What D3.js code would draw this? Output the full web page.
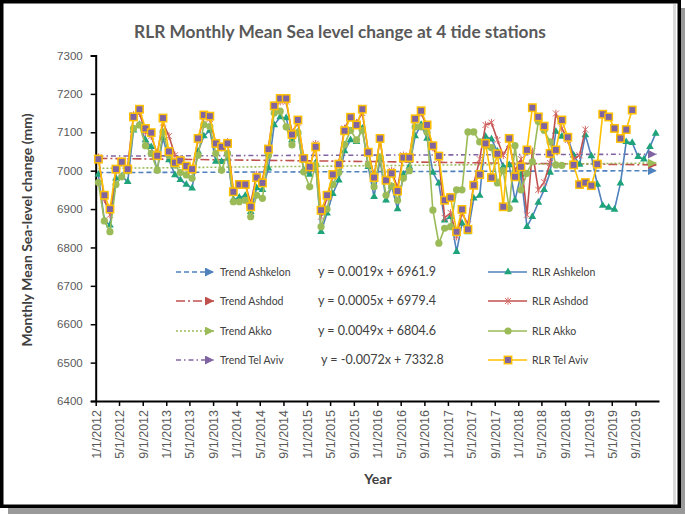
<!DOCTYPE html>
<html><head><meta charset="utf-8">
<script src="https://cdn.jsdelivr.net/npm/d3@7"></script>
<style>body{margin:0;background:#fff}svg{display:block}</style>
</head><body>
<svg id="c" width="685" height="515"></svg>
<script>
// ---------------- DATA ----------------
const startYear = 2012; // first monthly value: January 2012 (plotted mid-month)
const ashkelon = [6990,6870,6858,6980,6985,6971,7105,7120,7080,7062,7001,7085,
  7028,6989,6976,6964,6954,7050,7090,7105,7024,7023,7032,6925,
  6930,6935,6893,6955,6950,7006,7119,7140,7137,7080,7100,7001,
  6990,7020,6841,6889,6940,6975,7051,7080,7075,7110,7010,6932,
  7030,6923,6959,6900,6990,7010,7090,7120,7084,6995,6967,6871,
  6880,6789,6863,6840,6928,6935,7089,7082,7050,7010,7015,6923,
  6990,6854,6880,6917,6950,6995,7102,7089,7085,7040,7016,7093,
  7038,6964,6909,6904,6899,6967,7075,7073,7036,7030,7062,7097];
const ashdod = [7035,6925,6885,7000,7020,7010,7145,7150,7100,7090,7045,7125,
  7090,7040,7030,7010,7000,7080,7140,7135,7070,7060,7075,6950,
  6965,6965,6915,6990,6975,7060,7165,7180,7180,7100,7125,7035,
  7005,7070,6880,6930,6985,7020,7110,7140,7125,7150,7050,6985,
  7080,6975,7000,6955,7040,7035,7130,7150,7115,7060,7030,6877,
  6890,6828,6890,6860,6965,7030,7119,7125,7080,7040,7070,7000,
  7030,6885,7050,6950,6970,7020,7149,7110,7080,7030,7040,7107];
const akko = [6969,6869,6841,6964,6984,7000,7110,7119,7065,7045,7001,7101,
  7040,7015,6995,6989,6980,7040,7120,7115,7045,7001,7045,6919,
  6919,6923,6880,6936,6928,7040,7150,7155,7114,7067,7100,6997,
  6958,7015,6854,6900,6964,6995,7068,7105,7080,7105,7016,6958,
  7036,6936,6960,6923,6980,7000,7114,7114,7100,6897,6811,6850,
  6854,6950,6950,7101,7101,7075,7065,7060,6968,7000,6902,7065,
  6950,6993,7023,7128,7105,7075,7015,7014];
const telAviv = [7030,6936,6900,7004,7023,7004,7140,7160,7110,7099,7039,7137,
  7050,7021,7026,7012,7004,7084,7145,7142,7071,7062,7071,6945,
  6964,6964,6906,6982,6968,7056,7169,7188,7188,7094,7132,7032,
  7010,7062,6897,6936,6990,7017,7104,7139,7119,7160,7048,6982,
  7084,6975,6993,6947,7034,7034,7135,7156,7119,7065,7038,6923,
  6930,6841,6899,6847,6962,6990,7071,6982,7044,6906,7084,6984,
  7010,7054,7164,7140,7116,7045,7054,7132,7087,7015,6964,6969,
  6961,7017,7147,7140,7110,7084,7107,7158];
const stations = ["Ashkelon","Ashdod","Akko","Tel Aviv"];
const equations = ["y = 0.0019x + 6961.9","y = 0.0005x + 6979.4","y = 0.0049x + 6804.6","y = -0.0072x + 7332.8"];
const trendStart = [6995,7032,7006,7038];
const trendEnd   = [7000,7015,7020,7043];
const yTicks = [6400,6500,6600,6700,6800,6900,7000,7100,7200,7300];
const xTickLabels = ["1/1/2012","5/1/2012","9/1/2012","1/1/2013","5/1/2013","9/1/2013",
  "1/1/2014","5/1/2014","9/1/2014","1/1/2015","5/1/2015","9/1/2015",
  "1/1/2016","5/1/2016","9/1/2016","1/1/2017","5/1/2017","9/1/2017",
  "1/1/2018","5/1/2018","9/1/2018","1/1/2019","5/1/2019","9/1/2019"];
const title = "RLR Monthly Mean Sea level change at 4 tide stations";
const yTitle = "Monthly Mean Sea-level change  (mm)";
const xTitle = "Year";

// ---------------- STYLE ----------------
const lineColors  = ["#4F81BD","#C0504D","#9BBB59","#FFC000"];
const trendColors = ["#4F81BD","#C0504D","#9BBB59","#8064A2"];
const trendDash   = ["5,3","9,3,2,3","2,2","5,3,1.5,3"];
const series = [ashkelon, ashdod, akko, telAviv];

const svg = d3.select("#c");
const parse = d3.timeParse("%m/%d/%Y");
const x = d3.scaleTime().domain([new Date(2012,0,1), new Date(2020,0,1)]).range([95.7, 659]);
const y = d3.scaleLinear().domain([6400,7300]).range([401,55.5]);
const dateOf = i => new Date(startYear, i, 15);

// frame with shadow
svg.append("rect").attr("x",8).attr("y",506).attr("width",677).attr("height",8).attr("fill","#9a9a9a");
svg.append("rect").attr("x",680).attr("y",8).attr("width",5).attr("height",506).attr("fill","#9a9a9a");
svg.append("rect").attr("x",1.75).attr("y",1.75).attr("width",677.5).attr("height",504.5)
  .attr("fill","#fff").attr("stroke","#000").attr("stroke-width",3.5);
svg.append("rect").attr("x",673).attr("y",4).attr("width",3).attr("height",500).attr("fill","#d9d9d9");

// arrow markers
const defs = svg.append("defs");
trendColors.forEach((c,k)=>{
  defs.append("marker").attr("id","arr"+k).attr("viewBox","0 0 10 10")
    .attr("refX",10).attr("refY",5).attr("markerWidth",9).attr("markerHeight",9)
    .attr("markerUnits","userSpaceOnUse").attr("orient","auto")
    .append("path").attr("d","M0,0L10,5L0,10Z").attr("fill",c);
});

// title
svg.append("text").attr("x",340).attr("y",38).attr("text-anchor","middle")
  .attr("font-family","Lato, 'Open Sans', sans-serif").attr("font-weight","bold")
  .attr("font-size",17.3).attr("fill","#595959").text(title);

// y axis
const yAxis = svg.append("g").attr("transform","translate(95.7,0)")
  .call(d3.axisLeft(y).tickValues(yTicks).tickSize(5).tickPadding(8).tickFormat(d3.format("d")));
yAxis.select(".domain").attr("stroke","#000").attr("stroke-width",2);
yAxis.selectAll(".tick line").attr("stroke","#000").attr("stroke-width",1.5);
yAxis.selectAll("text").attr("font-family","'Liberation Sans', Arial, sans-serif")
  .attr("font-size",11.5).attr("fill","#595959");

// x axis
const xAxis = svg.append("g").attr("transform","translate(0,401)")
  .call(d3.axisBottom(x).tickValues(xTickLabels.map(parse)).tickSize(5).tickSizeOuter(0)
    .tickFormat(d3.timeFormat("%-m/%-d/%Y")));
xAxis.select(".domain").attr("stroke","#000").attr("stroke-width",2);
xAxis.selectAll(".tick line").attr("stroke","#000").attr("stroke-width",1.5);
xAxis.selectAll("text").attr("font-family","'Liberation Sans', Arial, sans-serif")
  .attr("font-size",12.5).attr("fill","#595959")
  .attr("transform","rotate(-90)").attr("text-anchor","end")
  .attr("x",-9).attr("y",0).attr("dy","0.35em");

// axis titles
svg.append("text").attr("transform","translate(26,230) rotate(-90)").attr("text-anchor","middle")
  .attr("dominant-baseline","central")
  .attr("font-family","Lato, sans-serif").attr("font-weight","bold").attr("font-size",14)
  .attr("fill","#404040").text(yTitle);
svg.append("text").attr("x",378).attr("y",484).attr("text-anchor","middle")
  .attr("font-family","Lato, sans-serif").attr("font-weight","bold").attr("font-size",14)
  .attr("fill","#404040").text(xTitle);

// trend lines
const plot = svg.append("g");
const firstDate = dateOf(0), lastDate = dateOf(ashkelon.length-1);
stations.forEach((s,k)=>{
  plot.append("line").attr("x1",x(firstDate)).attr("y1",y(trendStart[k]))
    .attr("x2",x(lastDate)+1).attr("y2",y(trendEnd[k]))
    .attr("stroke",trendColors[k]).attr("stroke-width",1.6)
    .attr("stroke-dasharray",trendDash[k]).attr("marker-end","url(#arr"+k+")");
});

// series
const line = d3.line().x((d,i)=>x(dateOf(i))).y(d=>y(d));
const tri = d3.symbol().type(d3.symbolTriangle).size(26);
function drawMarker(g,k,cx,cy){
  if(k===0){
    g.append("path").attr("d",tri()).attr("transform",`translate(${cx},${cy})`)
      .attr("fill","#1FA37A");
  } else if(k===1){
    g.append("path").attr("d","M-3,-3L3,3M-3,3L3,-3M0,-3.8L0,3.8")
      .attr("transform",`translate(${cx},${cy})`).attr("stroke","#D46A68").attr("stroke-width",1).attr("fill","none");
  } else if(k===2){
    g.append("circle").attr("cx",cx).attr("cy",cy).attr("r",3.6).attr("fill","#9BBB59");
  } else {
    g.append("rect").attr("x",cx-3.7).attr("y",cy-3.7).attr("width",7.4).attr("height",7.4)
      .attr("fill","#8064A2").attr("stroke","#FFC000").attr("stroke-width",1.5);
  }
}
series.forEach((vals,k)=>{
  const g = plot.append("g");
  g.append("path").datum(vals).attr("d",line).attr("fill","none")
    .attr("stroke",lineColors[k]).attr("stroke-width",1.6);
  vals.forEach((v,i)=>drawMarker(g,k,x(dateOf(i)),y(v)));
});

// legend
const rowsY = [272,301,331,360];
const lg = svg.append("g").attr("font-family","Lato, sans-serif");
stations.forEach((s,k)=>{
  const ry = rowsY[k];
  lg.append("line").attr("x1",176).attr("x2",214).attr("y1",ry).attr("y2",ry)
    .attr("stroke",trendColors[k]).attr("stroke-width",1.6).attr("stroke-dasharray",trendDash[k])
    .attr("marker-end","url(#arr"+k+")");
  lg.append("text").attr("x",220).attr("y",ry).attr("dy","0.35em").attr("font-size",10.5)
    .attr("fill","#404040").text("Trend "+s);
  lg.append("text").attr("x",k===3?321:318).attr("y",ry).attr("dy","0.35em").attr("font-size",12.5)
    .attr("fill","#404040").text(equations[k]);
  lg.append("line").attr("x1",488).attr("x2",527).attr("y1",ry).attr("y2",ry)
    .attr("stroke",lineColors[k]).attr("stroke-width",1.6);
  drawMarker(lg,k,508,ry);
  lg.append("text").attr("x",532).attr("y",ry).attr("dy","0.35em").attr("font-size",10.5)
    .attr("fill","#404040").text("RLR "+s);
});
</script>
</body></html>
